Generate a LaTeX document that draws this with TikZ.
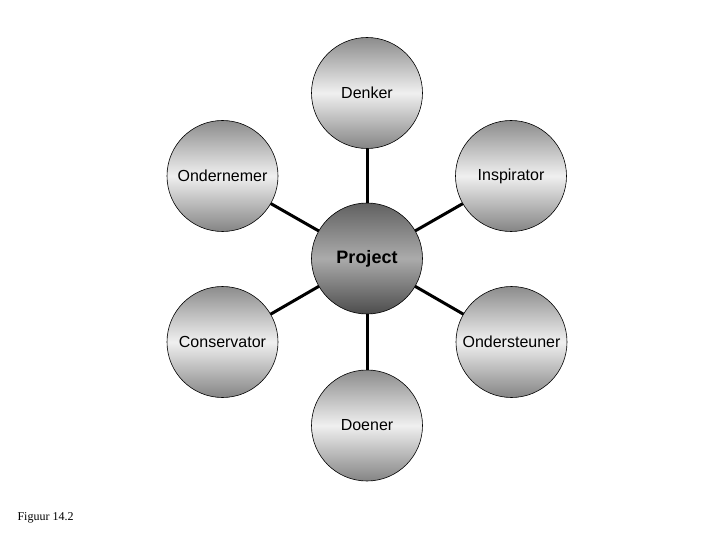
\documentclass[tikz,border=0pt]{standalone}
\usepackage{fontspec}
\usetikzlibrary{backgrounds}
\setmainfont{Liberation Sans}
\newfontfamily\serifface{Liberation Serif}
\begin{document}
\begin{tikzpicture}[x=1pt,y=-1pt,
  role/.style={circle, draw=black, line width=0.6pt, minimum size=111pt, inner sep=0pt,
    top color=black!45, bottom color=black!48, middle color=black!6,
    font=\fontsize{16}{18}\selectfont},
  hub/.style={circle, draw=black, line width=0.6pt, minimum size=111pt, inner sep=0pt,
    top color=black!62, bottom color=black!70, middle color=black!33,
    font=\fontsize{18}{20}\selectfont\bfseries},
  link/.style={line width=3pt, black}]
\useasboundingbox (0,0) rectangle (720,540);
\node[hub] (p) at (367,258.5) {Project};
\node[role] (d) at (367,93) {Denker};
\node[role] (o) at (222.5,176) {Ondernemer};
\node[role] (i) at (511,176) {Inspirator};
\node[role] (c) at (222.5,342) {Conservator};
\node[role] (s) at (511.5,342) {Ondersteuner};
\node[role] (e) at (367,425.5) {Doener};
\begin{scope}[on background layer]
\foreach \n in {d,o,i,c,s,e} {\draw[link] (p.center) -- (\n.center);}
\end{scope}
\node[font=\serifface\fontsize{12}{14}\selectfont, anchor=west] (fig) at (14,518) {Figuur 14.2};
\end{tikzpicture}
\end{document}
